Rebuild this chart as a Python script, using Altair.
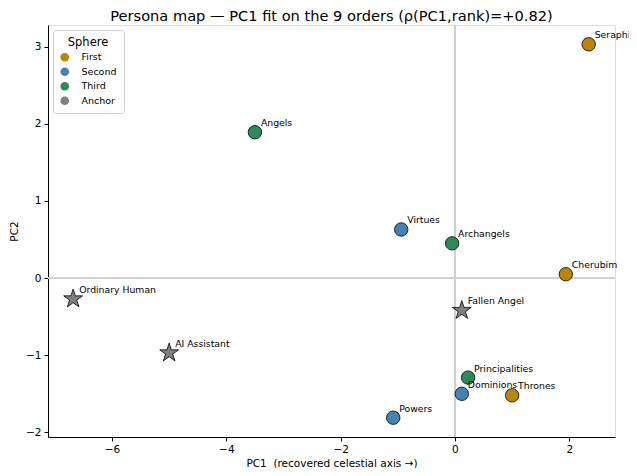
import altair as alt
import pandas as pd

names = ["Seraphim", "Cherubim", "Thrones", "Dominions", "Virtues", "Powers",
         "Principalities", "Archangels", "Angels", "Ordinary Human", "AI Assistant", "Fallen Angel"]
pc1 = [2.34, 1.94, 1.00, 0.12, -0.94, -1.08, 0.23, -0.05, -3.50, -6.68, -5.00, 0.12]
pc2 = [3.03, 0.05, -1.52, -1.50, 0.63, -1.81, -1.29, 0.45, 1.89, -0.27, -0.97, -0.42]
sphere = ["First", "First", "First", "Second", "Second", "Second",
          "Third", "Third", "Third", "Anchor", "Anchor", "Anchor"]

sphere_order = ["First", "Second", "Third", "Anchor"]
sphere_colors = ["#b8860b", "#4682b4", "#2e8b57", "#808080"]

df = pd.DataFrame({"name": names, "pc1": pc1, "pc2": pc2, "Sphere": sphere})

xdom = [-7.12, 2.80]
ydom = [-2.06, 3.28]

STAR = ("M0,-1L0.2245,-0.309L0.951,-0.309L0.363,0.118L0.588,0.809L0,0.382"
        "L-0.588,0.809L-0.363,0.118L-0.951,-0.309L-0.2245,-0.309Z")

xscale = alt.Scale(domain=xdom, nice=False, zero=False)
yscale = alt.Scale(domain=ydom, nice=False, zero=False)

xs = alt.X("pc1:Q", scale=xscale,
           axis=alt.Axis(values=[-6, -4, -2, 0, 2], title="PC1\u00a0\u00a0(recovered celestial axis →)",
                         grid=False, format="d", orient="bottom"))
ys = alt.Y("pc2:Q", scale=yscale,
           axis=alt.Axis(values=[-2, -1, 0, 1, 2, 3], title="PC2", grid=False, format="d",
                         orient="left"))

color = alt.Color("Sphere:N", scale=alt.Scale(domain=sphere_order, range=sphere_colors),
                  legend=alt.Legend(title="Sphere", orient="top-left", symbolType="circle",
                                    symbolSize=75, symbolStrokeWidth=0,
                                    labelFontSize=9.5, titleFontSize=11.5, titleFontWeight="normal",
                                    padding=7, offset=5, fillColor="white", labelOffset=12,
                                    strokeColor="#d0d0d0", cornerRadius=3, rowPadding=3.5,
                                    titleAnchor="middle", titlePadding=4))

base = alt.Chart(df)

vline = base.mark_rule(color="#d0d0d0", strokeWidth=0.8).encode(x=alt.datum(0, scale=xscale))
hline = base.mark_rule(color="#d0d0d0", strokeWidth=0.8).encode(y=alt.datum(0, scale=yscale))

circles = base.transform_filter(alt.datum.Sphere != "Anchor").mark_point(
    shape="circle", filled=True, size=180, stroke="black", strokeWidth=0.8, opacity=1
).encode(x=xs, y=ys, color=color)

stars = base.transform_filter(alt.datum.Sphere == "Anchor").mark_point(
    shape=STAR, filled=True, size=390, stroke="black", strokeWidth=0.8, opacity=1
).encode(x=xs, y=ys, color=color)

labels = base.mark_text(align="left", baseline="alphabetic", dx=6, dy=-6, fontSize=9.3,
                        color="black").encode(x=xs, y=ys, text="name:N")

chart = alt.layer(vline, hline, circles, stars, labels).properties(
    width=567, height=412,
    title=alt.TitleParams("Persona map — PC1 fit on the 9 orders (ρ(PC1,rank)=+0.82)",
                          fontSize=14.6, fontWeight="normal", offset=1,
                          anchor="middle", color="black"),
    autosize=alt.AutoSizeParams(type="none"),
    padding={"left": 40, "top": 17, "right": 14, "bottom": 31},
).configure_view(stroke="black", strokeWidth=1).configure(
    font="DejaVu Sans"
).configure_axis(
    labelFontSize=10.5, titleFontSize=10.5,
    titleFontWeight="normal", labelColor="black", titleColor="black", tickColor="black",
    domainColor="black", tickSize=4, labelPadding=3
).configure_axisX(titlePadding=4).configure_axisY(titlePadding=6)

chart.save("out.html", embed_options={"renderer": "svg", "actions": False})
